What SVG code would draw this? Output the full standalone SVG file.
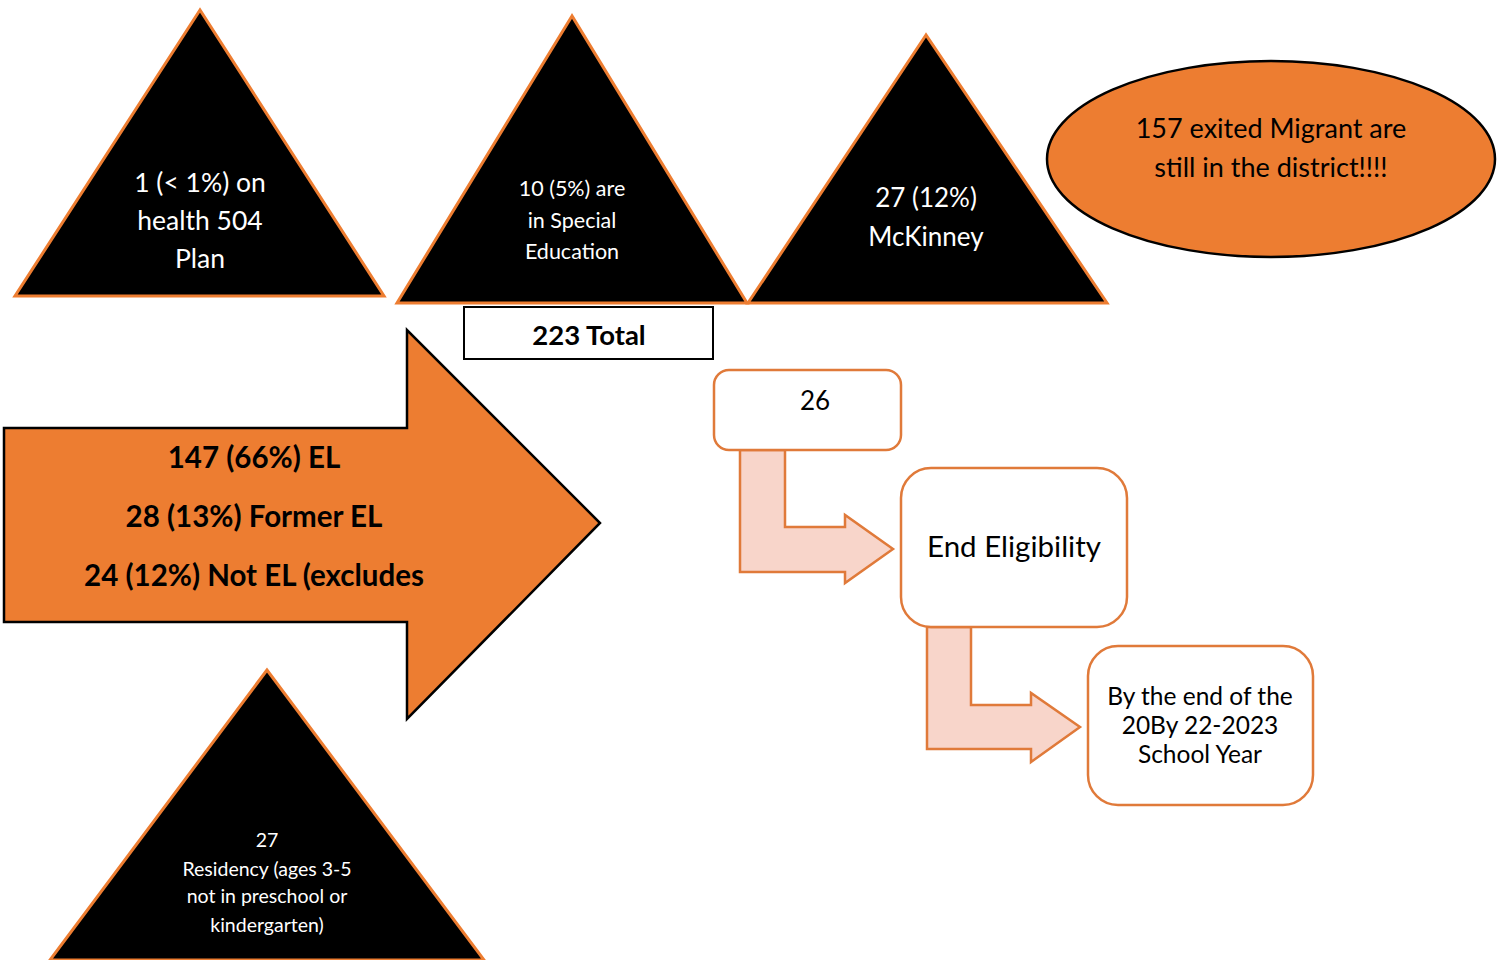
<svg xmlns="http://www.w3.org/2000/svg" width="1507" height="960" viewBox="0 0 1507 960">
<style>
.tri{fill:#000;stroke:#ED7D31;stroke-width:3;stroke-linejoin:miter}
.wt{fill:#fff;font-family:Lato,"Open Sans",sans-serif;text-anchor:middle}
.bt{fill:#000;font-family:Lato,"Open Sans",sans-serif;text-anchor:middle}
.b{font-weight:bold}
.rbox{fill:#fff;stroke:#E07A3A;stroke-width:2.5}
.bend{fill:#F8D5CA;stroke:#E07A3A;stroke-width:2.5;stroke-linejoin:miter}
</style>
<rect width="1507" height="960" fill="#fff"/>
<g id="tri-504">
<polygon class="tri" points="200,10 15,296 384,296"/>
<text class="wt" font-size="26.5" x="200" y="192">1 (&lt; 1%) on</text>
<text class="wt" font-size="26.5" x="200" y="230">health 504</text>
<text class="wt" font-size="26.5" x="200" y="268">Plan</text>
</g>
<g id="tri-sped">
<polygon class="tri" points="572,16 397,303 747,303"/>
<text class="wt" font-size="21.5" x="572" y="196">10 (5%) are</text>
<text class="wt" font-size="21.5" x="572" y="228">in Special</text>
<text class="wt" font-size="21.5" x="572" y="259">Education</text>
</g>
<g id="tri-mckinney">
<polygon class="tri" points="926,35 748,303 1107,303"/>
<text class="wt" font-size="26" x="926" y="207">27 (12%)</text>
<text class="wt" font-size="26" x="926" y="246">McKinney</text>
</g>
<g id="ellipse-migrant">
<ellipse cx="1271" cy="159" rx="224" ry="98" fill="#ED7D31" stroke="#000" stroke-width="2.5"/>
<text class="bt" font-size="27" x="1271" y="138">157 exited Migrant are</text>
<text class="bt" font-size="27" x="1271" y="177">still in the district!!!!</text>
</g>
<g id="total-box">
<rect x="464" y="307" width="249" height="52" fill="#fff" stroke="#000" stroke-width="2"/>
<text class="bt b" font-size="27.5" x="589" y="345">223 Total</text>
</g>
<g id="arrow-el">
<polygon points="4,428 407,428 407,330 600,523 407,719 407,622 4,622" fill="#ED7D31" stroke="#000" stroke-width="2.5"/>
<text class="bt b" font-size="29.5" x="254" y="468">147 (66%) EL</text>
<text class="bt b" font-size="29.5" x="254" y="527">28 (13%) Former EL</text>
<text class="bt b" font-size="29.5" x="254" y="586">24 (12%) Not EL (excludes</text>
</g>
<g id="tri-residency">
<polygon class="tri" points="267,670 50,960 484,960"/>
<text class="wt" font-size="19.5" x="267" y="847">27</text>
<text class="wt" font-size="19.5" x="267" y="876">Residency (ages 3-5</text>
<text class="wt" font-size="19.5" x="267" y="903">not in preschool or</text>
<text class="wt" font-size="19.5" x="267" y="932">kindergarten)</text>
</g>
<g id="connectors">
<polygon class="bend" points="740,450 785,450 785,527 845,527 845,515 893,549 845,583 845,572 740,572"/>
<polygon class="bend" points="927,627 971,627 971,705 1031,705 1031,693 1080,727 1031,762 1031,749 927,749"/>
</g>
<g id="box-26">
<rect class="rbox" x="714" y="370" width="187" height="80" rx="15"/>
<text class="bt" font-size="26" x="815" y="410">26</text>
</g>
<g id="box-end">
<rect class="rbox" x="901" y="468" width="226" height="159" rx="30"/>
<text class="bt" font-size="29.5" x="1014" y="557">End Eligibility</text>
</g>
<g id="box-year">
<rect class="rbox" x="1088" y="646" width="225" height="159" rx="30"/>
<text class="bt" font-size="24.5" x="1200" y="705">By the end of the</text>
<text class="bt" font-size="24.5" x="1200" y="734">20By 22-2023</text>
<text class="bt" font-size="24.5" x="1200" y="763">School Year</text>
</g>
</svg>
